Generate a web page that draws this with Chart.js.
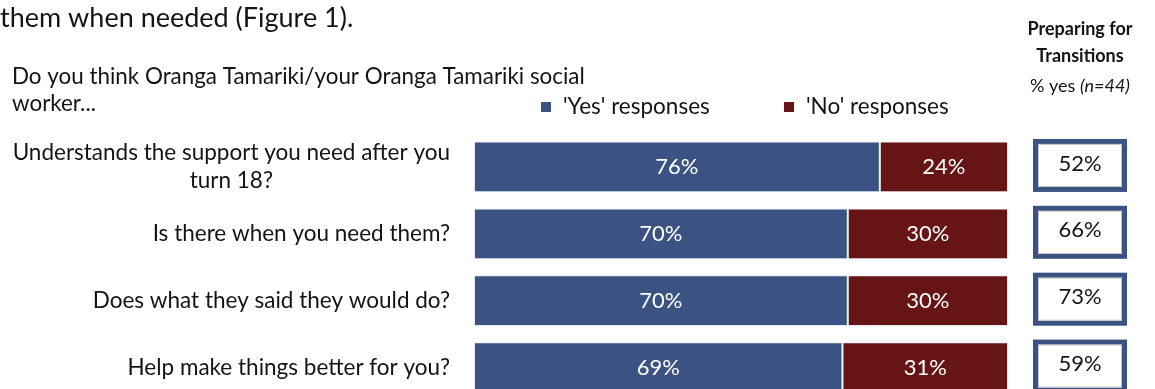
<!DOCTYPE html>
<html>
<head>
<meta charset="utf-8">
<script src="https://cdn.jsdelivr.net/npm/chart.js@4.4.1/dist/chart.umd.min.js"></script>
<style>
  html, body { margin: 0; padding: 0; background: #ffffff; overflow: hidden; }
  #wrap { position: relative; width: 1155px; height: 410px; }
</style>
</head>
<body>
<div id="wrap"><canvas id="chart" width="1155" height="410"></canvas></div>
<script>
// Survey questions (multi-line labels are arrays of lines)
const categories = [
  ['Understands the support you need after you', 'turn 18?'],
  ['Is there when you need them?'],
  ['Does what they said they would do?'],
  ['Help make things better for you?']
];
const seriesNames = ["'Yes' responses", "'No' responses"];
const yesValues = [76, 70, 70, 69];
const noValues = [24, 30, 30, 31];
// Comparison column: Preparing for Transitions, % yes (n=44)
const transitionsYes = [52, 66, 73, 59];

const leadText = 'them when needed (Figure 1).';
const questionLines = ['Do you think Oranga Tamariki/your Oranga Tamariki social', 'worker...'];
const sideHeading = ['Preparing for', 'Transitions'];
const sideSubheading = ['% yes ', '(n=44)'];

const FONT = "Lato, 'Open Sans', sans-serif";
const BLUE = '#3a5382';
const RED = '#661414';
const TEXT = '#141414';

// Draws the legend, surrounding text, category labels, in-bar values and the side boxes
const decorations = {
  id: 'decorations',
  afterDatasetsDraw(chart) {
    const ctx = chart.ctx;
    const area = chart.chartArea;
    const yScale = chart.scales.y;
    ctx.save();

    // values inside each bar segment
    ctx.font = `22px ${FONT}`;
    ctx.fillStyle = '#ffffff';
    ctx.textAlign = 'center';
    ctx.textBaseline = 'middle';
    chart.data.datasets.forEach((ds, di) => {
      chart.getDatasetMeta(di).data.forEach((bar, i) => {
        ctx.fillText(ds.data[i] + '%', (bar.base + bar.x) / 2, bar.y);
      });
    });

    // legend: square swatch followed by series name
    ctx.font = `22.5px ${FONT}`;
    ctx.textAlign = 'left';
    const legendX = [area.left + 67, area.left + 310];
    const legendY = 107;
    chart.data.datasets.forEach((ds, di) => {
      ctx.fillStyle = ds.backgroundColor;
      ctx.fillRect(legendX[di], legendY - 5, 10, 10);
      ctx.fillStyle = TEXT;
      ctx.fillText(ds.label, legendX[di] + 22, legendY);
    });

    // category labels: block right-aligned, lines centred within block
    ctx.fillStyle = TEXT;
    ctx.textAlign = 'center';
    ctx.font = `22.5px ${FONT}`;
    const labelRight = area.left - 24;
    const lineH = 28;
    categories.forEach((lines, i) => {
      const cy = yScale.getPixelForValue(i);
      const widest = Math.max(...lines.map(l => ctx.measureText(l).width));
      const cx = labelRight - widest / 2;
      const y0 = cy - (lines.length - 1) * lineH / 2;
      lines.forEach((l, k) => ctx.fillText(l, cx, y0 + k * lineH));
    });

    // comparison boxes
    const boxLeft = area.right + 25;
    const boxW = 94, boxH = 53, edge = 5;
    ctx.font = `22px ${FONT}`;
    transitionsYes.forEach((v, i) => {
      const cy = yScale.getPixelForValue(i) - 1.5;
      const top = cy - boxH / 2;
      ctx.fillStyle = BLUE;
      ctx.fillRect(boxLeft, top, boxW, boxH);
      ctx.fillStyle = '#ffffff';
      ctx.fillRect(boxLeft + edge, top + edge, boxW - 2 * edge, boxH - 2 * edge);
      ctx.strokeStyle = '#c4c4c4';
      ctx.lineWidth = 1;
      ctx.strokeRect(boxLeft + edge + 0.5, top + edge + 0.5, boxW - 2 * edge - 1, boxH - 2 * edge - 1);
      ctx.fillStyle = TEXT;
      ctx.textAlign = 'center';
      ctx.fillText(v + '%', boxLeft + boxW / 2, cy - 2);
    });

    // side heading
    const hx = boxLeft + boxW / 2;
    ctx.font = `bold 18px ${FONT}`;
    ctx.fillText(sideHeading[0], hx, 29);
    ctx.fillText(sideHeading[1], hx, 56);
    ctx.font = `18px ${FONT}`;
    const w1 = ctx.measureText(sideSubheading[0]).width;
    ctx.font = `italic 18px ${FONT}`;
    const w2 = ctx.measureText(sideSubheading[1]).width;
    const sx = hx - (w1 + w2) / 2;
    ctx.textAlign = 'left';
    ctx.font = `18px ${FONT}`;
    ctx.fillText(sideSubheading[0], sx, 86);
    ctx.font = `italic 18px ${FONT}`;
    ctx.fillText(sideSubheading[1], sx + w1, 86);

    // lead sentence and question
    ctx.font = `27px ${FONT}`;
    ctx.fillText(leadText, 0, 18);
    ctx.font = `22.4px ${FONT}`;
    ctx.fillText(questionLines[0], 12, 77);
    ctx.fillText(questionLines[1], 12, 104);

    ctx.restore();
  }
};

new Chart(document.getElementById('chart'), {
  type: 'bar',
  data: {
    labels: categories,
    datasets: [
      { label: seriesNames[0], data: yesValues, backgroundColor: BLUE },
      { label: seriesNames[1], data: noValues, backgroundColor: RED }
    ]
  },
  options: {
    indexAxis: 'y',
    responsive: false,
    animation: false,
    events: [],
    datasets: {
      bar: {
        categoryPercentage: 1,
        barPercentage: 0.76,
        borderWidth: 1,
        borderSkipped: false,
        borderColor: 'rgba(225,230,240,0.85)'
      }
    },
    layout: { padding: { left: 474, right: 147, top: 133.5, bottom: 9 } },
    scales: {
      x: { stacked: true, min: 0, max: 100, display: false },
      y: { stacked: true, display: false }
    },
    plugins: {
      tooltip: { enabled: false },
      legend: { display: false }
    }
  },
  plugins: [decorations]
});
</script>
</body>
</html>
